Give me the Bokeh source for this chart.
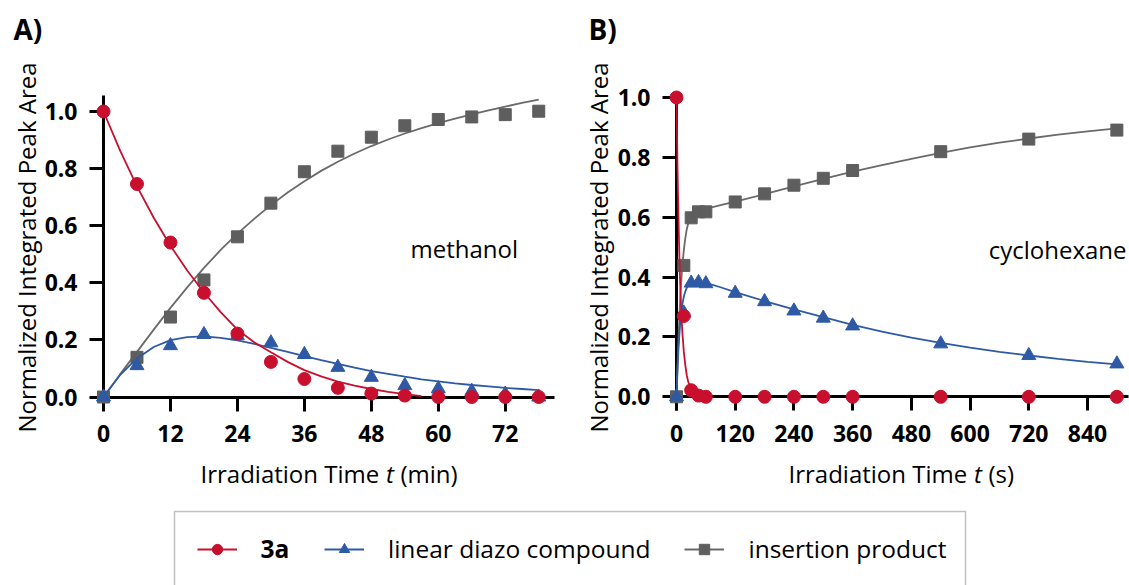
import math
from bokeh.plotting import figure
from bokeh.models import (Range1d, FixedTicker, Label, Legend, LegendItem,
                          BoxAnnotation, PrintfTickFormatter)
from bokeh.layouts import column, row
from bokeh.embed import file_html
from bokeh.resources import INLINE

FONT = "Open Sans"
RED = "#C8102E"
BLUE = "#2E5AA5"
GRAY = "#5E5E5E"
GRAY_LINE = "#6A6A6A"

# ---------------- Panel A: methanol (min) ----------------
tA = [0, 6, 12, 18, 24, 30, 36, 42, 48, 54, 60, 66, 72, 78]
A_3a = [1.0, 0.746, 0.541, 0.365, 0.222, 0.123, 0.063, 0.032, 0.012, 0.005, 0.0, 0.0, 0.0, 0.0]
A_diazo = [0.0, 0.11, 0.18, 0.219, 0.215, 0.19, 0.149, 0.104, 0.069, 0.04, 0.029, 0.02, 0.01, 0.0]
A_insert = [0.0, 0.139, 0.28, 0.41, 0.561, 0.679, 0.789, 0.861, 0.91, 0.95, 0.972, 0.981, 0.989, 1.001]

fitA_t_red = [0, 3, 6, 9, 12, 15, 18, 21, 24, 27, 30, 33, 36, 39, 42, 45, 48, 51, 54, 57]
fitA_red = [1.0, 0.862, 0.738, 0.628, 0.53, 0.443, 0.366, 0.297, 0.236, 0.192, 0.157, 0.123,
            0.094, 0.072, 0.054, 0.04, 0.028, 0.018, 0.01, 0.003]
fitA_t = [0, 3, 6, 9, 12, 15, 18, 21, 24, 27, 30, 33, 36, 39, 42, 45, 48, 51, 54, 57,
          60, 63, 66, 69, 72, 75, 78]
fitA_blue = [0.0, 0.078, 0.135, 0.175, 0.199, 0.21, 0.212, 0.207, 0.198, 0.186, 0.172, 0.158,
             0.143, 0.129, 0.116, 0.103, 0.091, 0.081, 0.071, 0.062, 0.055, 0.048, 0.042,
             0.037, 0.032, 0.028, 0.024]
fitA_gray = [0.0, 0.08, 0.158, 0.236, 0.312, 0.384, 0.452, 0.515, 0.572, 0.624, 0.672, 0.716,
             0.756, 0.792, 0.824, 0.853, 0.879, 0.902, 0.923, 0.942, 0.959, 0.975, 0.99,
             1.004, 1.017, 1.03, 1.042]

# ---------------- Panel B: cyclohexane (s) ----------------
tB = [0, 15, 30, 45, 60, 120, 180, 240, 300, 360, 540, 720, 900]
B_3a = [1.0, 0.27, 0.022, 0.004, 0.0, 0.0, 0.0, 0.0, 0.0, 0.0, 0.0, 0.0, 0.0]
B_diazo = [0.0, 0.28, 0.38, 0.382, 0.378, 0.346, 0.318, 0.287, 0.263, 0.237, 0.177, 0.138, 0.11]
B_insert = [0.0, 0.439, 0.598, 0.618, 0.618, 0.651, 0.678, 0.707, 0.73, 0.756, 0.819, 0.861, 0.891]

fitB_t_red = [0, 2, 4, 6, 8, 10, 12, 15, 18, 21, 24, 27, 30, 35, 40, 50, 60]
fitB_red = [1.0, 0.77, 0.6, 0.46, 0.355, 0.275, 0.215, 0.15, 0.105, 0.072, 0.05, 0.035,
            0.024, 0.012, 0.006, 0.0015, 0.0]
fitB_t = [0, 2, 4, 6, 8, 10, 12, 15, 18, 21, 24, 30, 36, 45, 60, 90, 120, 180, 240, 300,
          360, 420, 480, 540, 600, 660, 720, 780, 840, 900]
fitB_blue = [0.0, 0.09, 0.16, 0.21, 0.255, 0.285, 0.31, 0.335, 0.352, 0.364, 0.372, 0.381,
             0.385, 0.386, 0.381, 0.366, 0.35, 0.32, 0.292, 0.266, 0.24, 0.218, 0.198, 0.18,
             0.164, 0.15, 0.138, 0.127, 0.117, 0.108]
fitB_gray = [0.0, 0.1, 0.19, 0.27, 0.34, 0.395, 0.44, 0.49, 0.53, 0.56, 0.58, 0.603, 0.614,
             0.622, 0.628, 0.64, 0.652, 0.677, 0.703, 0.728, 0.752, 0.774, 0.795, 0.815,
             0.833, 0.849, 0.863, 0.876, 0.887, 0.897]

ticksA_x = [0, 12, 24, 36, 48, 60, 72]
ticksB_x = [0, 120, 240, 360, 480, 600, 720, 840]
ticks_y = [0.0, 0.2, 0.4, 0.6, 0.8, 1.0]

LEGEND_LABELS = ["3a", "linear diazo compound", "insertion product"]

TOP_H = 500


def make_panel(width, left_px, geom, xbounds_px, xticks):
    """geom = (x0 px, px per x unit, y0 px, px per y unit) in panel-local pixels."""
    x0, xs, y0, ys = geom
    xr = ((0 - x0) / xs, (width - x0) / xs)
    yr = ((y0 - TOP_H) / ys, y0 / ys)
    p = figure(width=width, height=TOP_H, x_range=Range1d(*xr), y_range=Range1d(*yr),
               output_backend="svg", toolbar_location=None,
               min_border_left=0, min_border_right=0, min_border_top=0, min_border_bottom=0)
    p.outline_line_color = None
    p.grid.visible = False
    p.xaxis.fixed_location = 0
    p.yaxis.fixed_location = 0
    p.xaxis.bounds = ((xbounds_px[0] - x0) / xs, (xbounds_px[1] - x0) / xs)
    p.yaxis.bounds = ((y0 - 410) / ys, (y0 - 95) / ys)
    p.xaxis.ticker = FixedTicker(ticks=xticks)
    p.yaxis.ticker = FixedTicker(ticks=ticks_y)
    p.yaxis.formatter = PrintfTickFormatter(format="%.1f")
    for ax in (p.xaxis[0], p.yaxis[0]):
        ax.level = "underlay"
        ax.axis_line_width = 3
        ax.axis_line_color = "black"
        ax.major_tick_line_width = 3
        ax.major_tick_line_color = "black"
        ax.major_tick_out = 14
        ax.major_tick_in = 0
        ax.minor_tick_out = 0
        ax.minor_tick_in = 0
        ax.major_label_text_font = FONT
        ax.major_label_text_font_style = "bold"
        ax.major_label_text_font_size = "23px"
        ax.major_label_text_color = "black"
    p.xaxis.major_label_standoff = 14
    p.yaxis.major_label_standoff = 12
    fx = lambda X: (X - left_px - x0) / xs
    fy = lambda Y: (y0 - Y) / ys
    return p, fx, fy


def add_series(p, fx_red, fy_red, fx, fy_blue, fy_gray, x, y3a, ydz, yin):
    p.line(fx, fy_gray, line_color=GRAY_LINE, line_width=1.8)
    p.scatter(x, yin, marker="square", size=12, fill_color=GRAY, line_color=GRAY)
    p.line(fx, fy_blue, line_color=BLUE, line_width=1.8)
    p.scatter(x, ydz, marker="triangle", size=14, fill_color=BLUE, line_color=BLUE)
    p.line(fx_red, fy_red, line_color=RED, line_width=1.8)
    p.scatter(x, y3a, marker="circle", size=13, fill_color=RED, line_color=RED)


def txt(p, x, y, text, size="24px", style="normal", align="left", angle=0.0):
    p.add_layout(Label(x=x, y=y, text=text, text_font=FONT, text_font_size=size,
                       text_font_style=style, text_align=align,
                       text_baseline="alphabetic", angle=angle, text_color="black"))


# Panel A (image px): y axis at x=103, 5.58 px/min ; y=0 at 396.5, 285.5 px/unit
pA, fxA, fyA = make_panel(570, 0, (103.0, 5.58, 396.5, 285.5), (96, 554), ticksA_x)
add_series(pA, fitA_t_red, fitA_red, fitA_t, fitA_blue, fitA_gray, tA, A_3a, A_diazo, A_insert)
txt(pA, fxA(13), fyA(28.7), "A)", size="28px", style="bold")
txt(pA, fxA(26), fyA(247), "Normalized Integrated Peak Area", align="center", angle=math.pi / 2)
txt(pA, fxA(200), fyA(473), "Irradiation Time")
txt(pA, fxA(385.5), fyA(473), "t", style="italic")
txt(pA, fxA(400), fyA(473), "(min)")
txt(pA, fxA(410), fyA(248.3), "methanol")

# Panel B (image px): y axis at x=676, 0.4893 px/s ; y=0 at 396.3, 299.3 px/unit
pB, fxB, fyB = make_panel(559, 570, (106.0, 0.4893, 396.3, 299.3), (99, 558), ticksB_x)
add_series(pB, fitB_t_red, fitB_red, fitB_t, fitB_blue, fitB_gray, tB, B_3a, B_diazo, B_insert)
txt(pB, fxB(588), fyB(28.7), "B)", size="28px", style="bold")
txt(pB, fxB(598), fyB(247), "Normalized Integrated Peak Area", align="center", angle=math.pi / 2)
txt(pB, fxB(788), fyB(473), "Irradiation Time")
txt(pB, fxB(973.5), fyB(473), "t", style="italic")
txt(pB, fxB(988), fyB(473), "(s)")
txt(pB, fxB(1126), fyB(249), "cyclohexane", align="right")

# ---------------- Legend strip ----------------
LEG_H = 85
pL = figure(width=1129, height=LEG_H, x_range=Range1d(0, 1129), y_range=Range1d(0, LEG_H),
            output_backend="svg", toolbar_location=None,
            x_axis_location=None, y_axis_location=None,
            min_border_left=0, min_border_right=0, min_border_top=0, min_border_bottom=0)
pL.outline_line_color = None
pL.grid.visible = False
pL.add_layout(BoxAnnotation(left=174, right=965, top=LEG_H - 11, bottom=-30, fill_alpha=0,
                            line_color="#333333", line_width=1.5))

off = [-500]
rl_red = pL.line(off, off, line_color=RED, line_width=2)
rs_red = pL.scatter(off, off, marker="circle", fill_color=RED, line_color=RED)
rl_blue = pL.line(off, off, line_color=BLUE, line_width=2)
rs_blue = pL.scatter(off, off, marker="triangle", fill_color=BLUE, line_color=BLUE)
rl_gray = pL.line(off, off, line_color=GRAY_LINE, line_width=2)
rs_gray = pL.scatter(off, off, marker="square", fill_color=GRAY, line_color=GRAY)

common = dict(orientation="horizontal", glyph_width=40, glyph_height=26, label_standoff=24,
              padding=0, margin=0, border_line_alpha=0, background_fill_alpha=0,
              label_text_font=FONT, label_text_font_size="24.5px", label_text_color="black",
              click_policy="none")
leg1 = Legend(items=[LegendItem(label=LEGEND_LABELS[0], renderers=[rl_red, rs_red])],
              location=(196.5, 20), label_text_font_style="bold", spacing=0, **common)
leg2 = Legend(items=[LegendItem(label=LEGEND_LABELS[1], renderers=[rl_blue, rs_blue]),
                     LegendItem(label=LEGEND_LABELS[2], renderers=[rl_gray, rs_gray])],
              location=(324, 20), spacing=34, **common)
pL.add_layout(leg1, "center")
pL.add_layout(leg2, "center")

layout = column(row(pA, pB, spacing=0), pL, spacing=0)
open("out.html", "w").write(file_html(layout, INLINE))
